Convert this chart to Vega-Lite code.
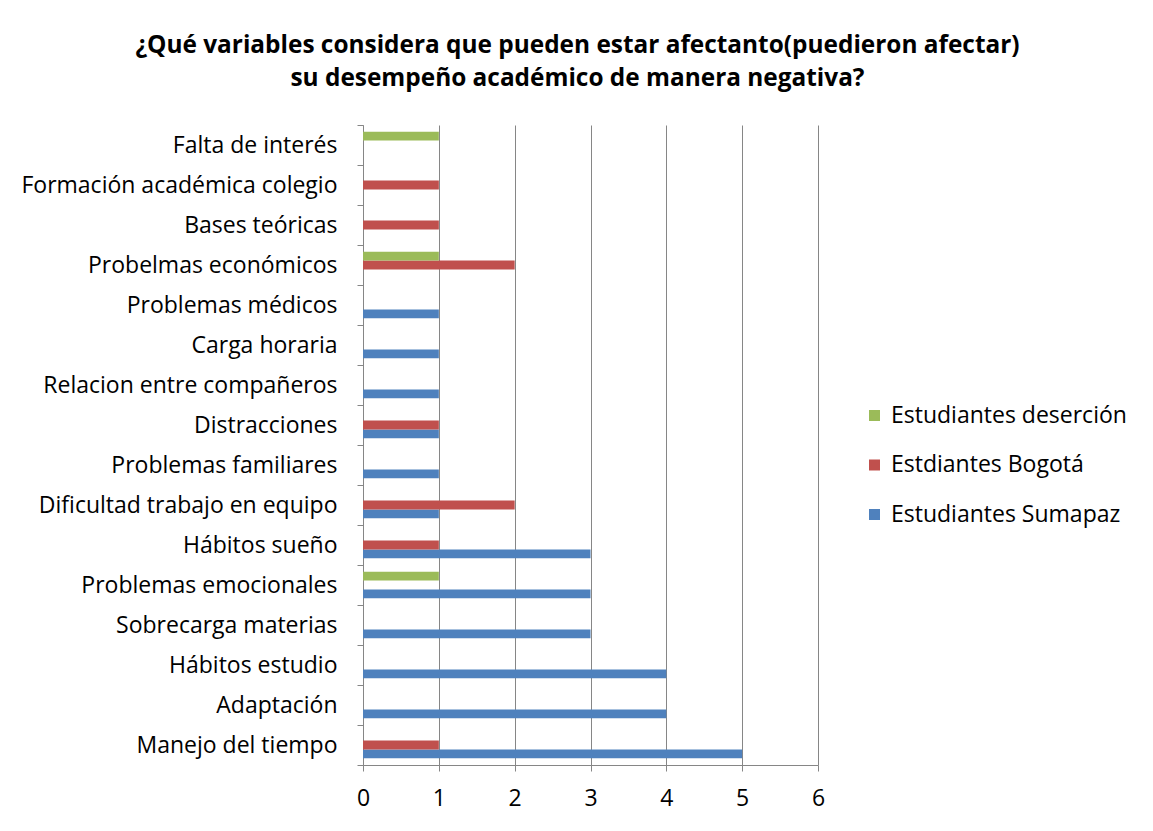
{
  "$schema": "https://vega.github.io/schema/vega-lite/v6.json",
  "autosize": {"type": "none"},
  "width": 455,
  "height": 640,
  "padding": {"left": 363, "top": 125, "right": 335, "bottom": 66},
  "background": "white",
  "title": {
    "text": ["¿Qué variables considera que pueden estar afectanto(puedieron afectar)", "su desempeño académico de manera negativa?"],
    "font": "Open Sans",
    "fontSize": 24.4,
    "fontWeight": "bold",
    "color": "#000000",
    "lineHeight": 33,
    "anchor": "middle",
    "frame": "group",
    "dx": -13,
    "offset": 23
  },
  "data": {
    "values": [
      {"cat": "Manejo del tiempo", "serie": "Estudiantes Sumapaz", "value": 5},
      {"cat": "Manejo del tiempo", "serie": "Estdiantes Bogotá", "value": 1},
      {"cat": "Adaptación", "serie": "Estudiantes Sumapaz", "value": 4},
      {"cat": "Hábitos estudio", "serie": "Estudiantes Sumapaz", "value": 4},
      {"cat": "Sobrecarga materias", "serie": "Estudiantes Sumapaz", "value": 3},
      {"cat": "Problemas emocionales", "serie": "Estudiantes Sumapaz", "value": 3},
      {"cat": "Problemas emocionales", "serie": "Estudiantes deserción", "value": 1},
      {"cat": "Hábitos sueño", "serie": "Estudiantes Sumapaz", "value": 3},
      {"cat": "Hábitos sueño", "serie": "Estdiantes Bogotá", "value": 1},
      {"cat": "Dificultad trabajo en equipo", "serie": "Estudiantes Sumapaz", "value": 1},
      {"cat": "Dificultad trabajo en equipo", "serie": "Estdiantes Bogotá", "value": 2},
      {"cat": "Problemas familiares", "serie": "Estudiantes Sumapaz", "value": 1},
      {"cat": "Distracciones", "serie": "Estudiantes Sumapaz", "value": 1},
      {"cat": "Distracciones", "serie": "Estdiantes Bogotá", "value": 1},
      {"cat": "Relacion entre compañeros", "serie": "Estudiantes Sumapaz", "value": 1},
      {"cat": "Carga horaria", "serie": "Estudiantes Sumapaz", "value": 1},
      {"cat": "Problemas médicos", "serie": "Estudiantes Sumapaz", "value": 1},
      {"cat": "Probelmas económicos", "serie": "Estdiantes Bogotá", "value": 2},
      {"cat": "Probelmas económicos", "serie": "Estudiantes deserción", "value": 1},
      {"cat": "Bases teóricas", "serie": "Estdiantes Bogotá", "value": 1},
      {"cat": "Formación académica colegio", "serie": "Estdiantes Bogotá", "value": 1},
      {"cat": "Falta de interés", "serie": "Estudiantes deserción", "value": 1}
    ]
  },
  "mark": {"type": "bar"},
  "encoding": {
    "y": {
      "field": "cat",
      "type": "nominal",
      "sort": ["Falta de interés", "Formación académica colegio", "Bases teóricas", "Probelmas económicos", "Problemas médicos", "Carga horaria", "Relacion entre compañeros", "Distracciones", "Problemas familiares", "Dificultad trabajo en equipo", "Hábitos sueño", "Problemas emocionales", "Sobrecarga materias", "Hábitos estudio", "Adaptación", "Manejo del tiempo"],
      "scale": {"paddingInner": 0, "paddingOuter": 0},
      "axis": {
        "title": null,
        "tickBand": "extent",
        "tickSize": 6,
        "tickColor": "#868686",
        "domainColor": "#868686",
        "labelPadding": 20,
        "labelFont": "Open Sans",
        "labelFontSize": 23,
        "labelColor": "#000000",
        "labelLimit": 400,
        "grid": false
      }
    },
    "yOffset": {
      "field": "serie",
      "type": "nominal",
      "scale": {"domain": ["Estudiantes deserción", "Estdiantes Bogotá", "Estudiantes Sumapaz"], "paddingInner": 0, "paddingOuter": 0.75}
    },
    "x": {
      "field": "value",
      "type": "quantitative",
      "scale": {"domain": [0, 6], "nice": false},
      "axis": {
        "title": null,
        "values": [0, 1, 2, 3, 4, 5, 6],
        "format": "d",
        "grid": true,
        "gridColor": "#868686",
        "gridWidth": 1,
        "tickColor": "#868686",
        "tickSize": 6,
        "domainColor": "#868686",
        "labelPadding": 16,
        "labelFlush": false,
        "labelFont": "Open Sans",
        "labelFontSize": 23,
        "labelColor": "#000000"
      }
    },
    "color": {
      "field": "serie",
      "type": "nominal",
      "scale": {"domain": ["Estudiantes deserción", "Estdiantes Bogotá", "Estudiantes Sumapaz"], "range": ["#9BBB59", "#C0504D", "#4F81BD"]},
      "legend": {
        "title": null,
        "orient": "none",
        "legendX": 500,
        "legendY": 279,
        "symbolType": "square",
        "symbolSize": 121,
        "symbolStrokeWidth": 0,
        "labelFont": "Open Sans",
        "labelFontSize": 23,
        "labelColor": "#000000",
        "labelOffset": 5,
        "rowPadding": 25.5,
        "padding": 0,
        "labelLimit": 400
      }
    }
  },
  "config": {
    "view": {"stroke": null}
  }
}
